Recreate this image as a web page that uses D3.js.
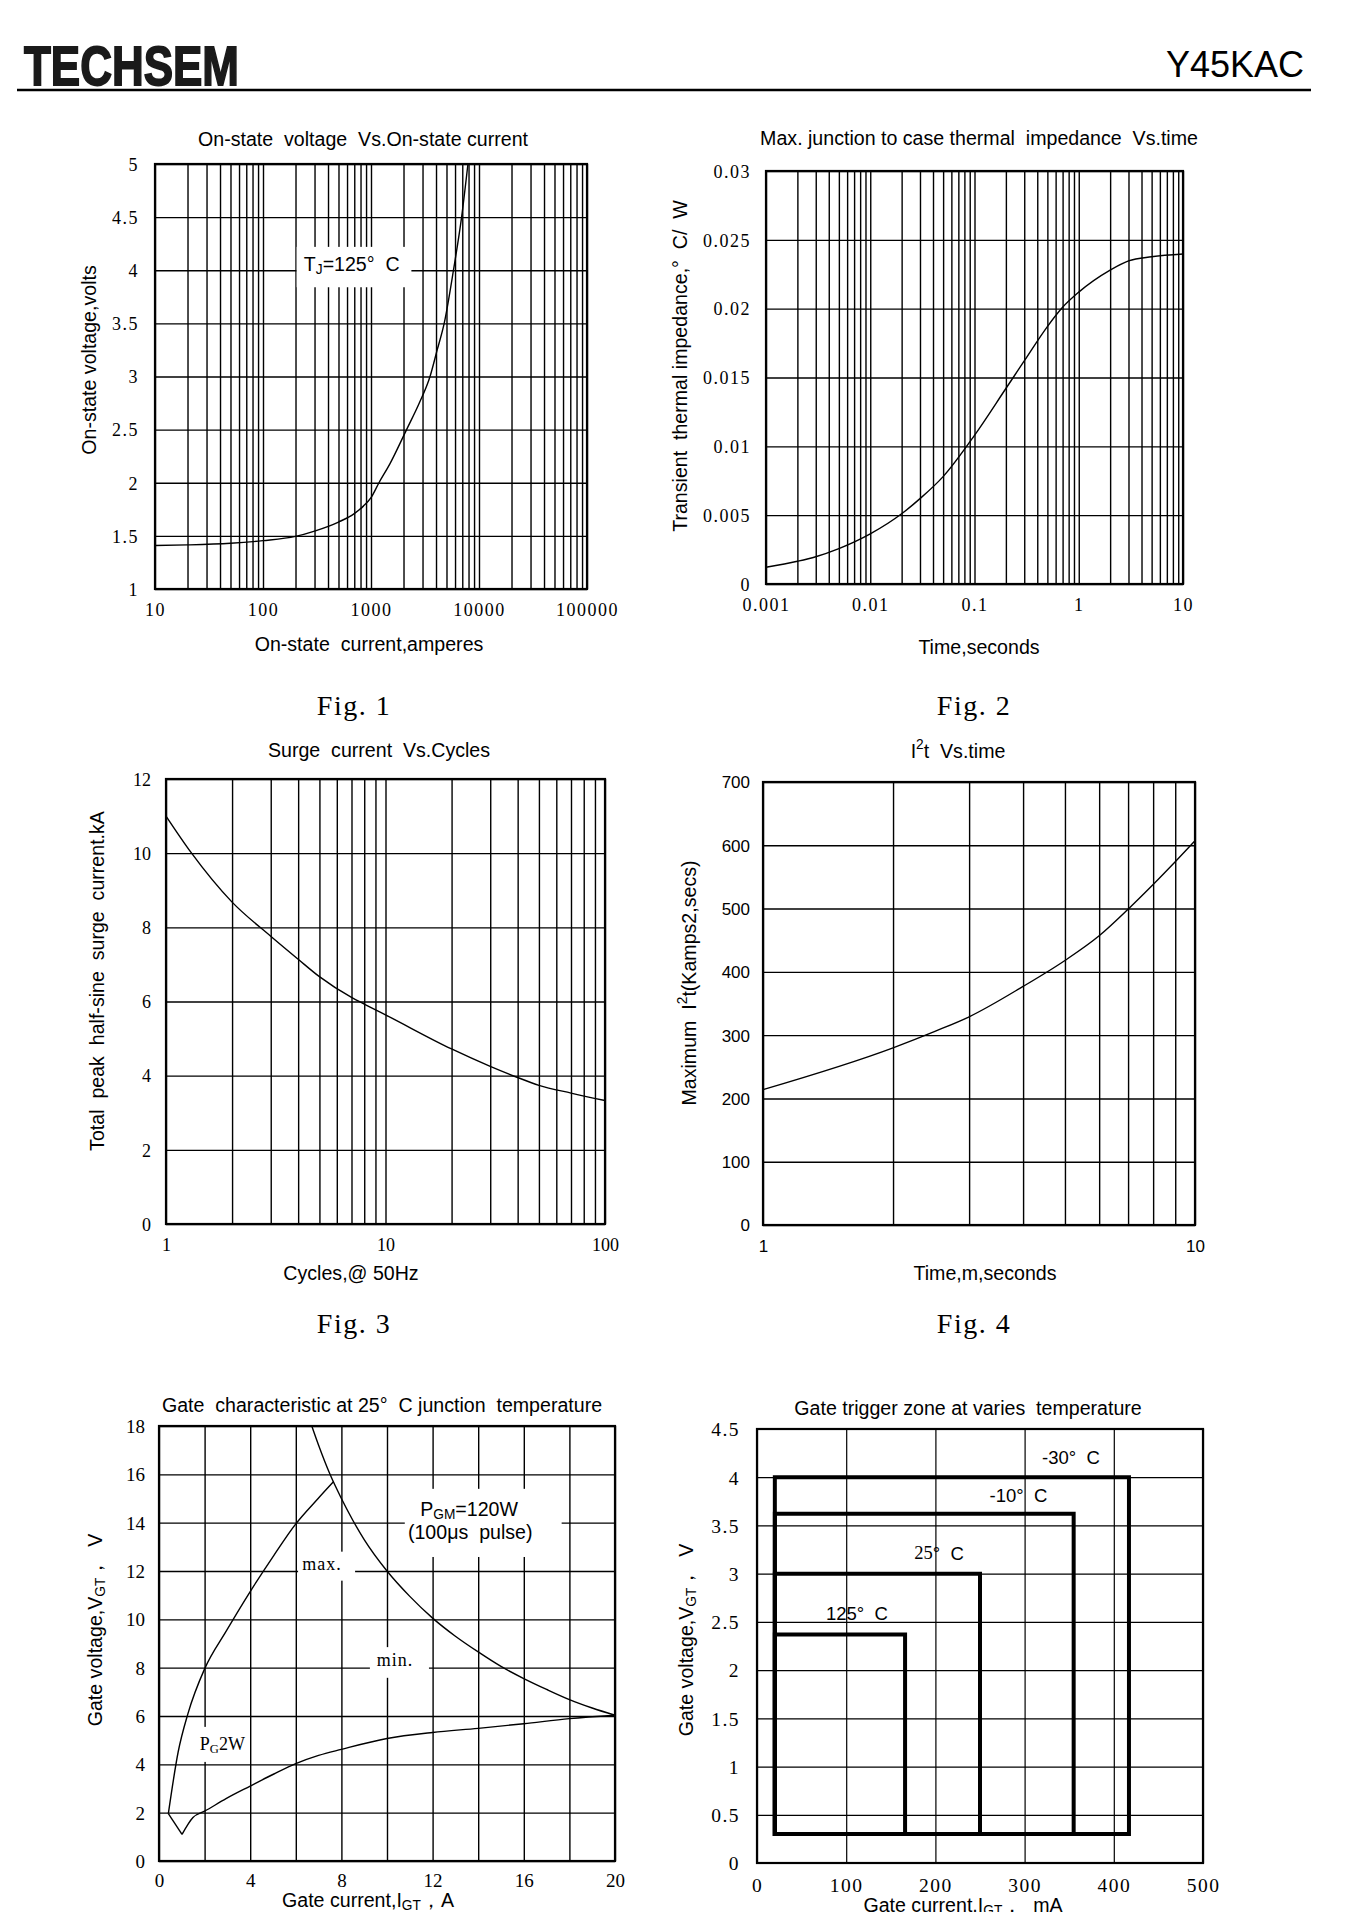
<!DOCTYPE html>
<html><head><meta charset="utf-8">
<script src="https://cdn.jsdelivr.net/npm/d3@7"></script>
<style>
body{margin:0;background:#fff;}
svg{display:block;}
svg text{white-space:pre;}
</style></head><body>
<svg id="chart" width="1357" height="1912"></svg>
<script>
// ---------------- DATA ----------------
// Fig 1: On-state voltage vs on-state current
const fig1Current = [10, 20, 50, 100, 200, 300, 500, 700, 850, 1000, 1185, 1500, 2135, 2800, 3520, 4100, 4760, 5800, 6900, 7900];
const fig1Voltage = [1.41, 1.415, 1.43, 1.455, 1.495, 1.545, 1.63, 1.71, 1.78, 1.86, 2.0, 2.18, 2.5, 2.75, 3.0, 3.25, 3.5, 4.0, 4.5, 5.0];
const fig1XTicks = [10, 100, 1000, 10000, 100000];
const fig1XLabels = ["10", "100", "1000", "10000", "100000"];
const fig1YTicks = [1, 1.5, 2, 2.5, 3, 3.5, 4, 4.5, 5];
const fig1YLabels = ["1", "1.5", "2", "2.5", "3", "3.5", "4", "4.5", "5"];

// Fig 2: thermal impedance vs time
const fig2Time = [0.001, 0.002, 0.003, 0.005, 0.01, 0.02, 0.03, 0.05, 0.1, 0.2, 0.3, 0.5, 0.7, 1, 2, 3, 5, 10];
const fig2Impedance = [0.00122, 0.00165, 0.00198, 0.00257, 0.00364, 0.0051, 0.0062, 0.0078, 0.0108, 0.0142, 0.0162, 0.0187, 0.0201, 0.0212, 0.0228, 0.02347, 0.02377, 0.02397];
const fig2XTicks = [0.001, 0.01, 0.1, 1, 10];
const fig2XLabels = ["0.001", "0.01", "0.1", "1", "10"];
const fig2YTicks = [0, 0.005, 0.01, 0.015, 0.02, 0.025, 0.03];
const fig2YLabels = ["0", "0.005", "0.01", "0.015", "0.02", "0.025", "0.03"];

// Fig 3: surge current vs cycles
const fig3Cycles = [1, 1.3, 2, 3, 4, 5, 7, 8, 10, 20, 30, 40, 50, 70, 100];
const fig3Current = [11.0, 10.02, 8.68, 7.76, 7.14, 6.67, 6.11, 5.93, 5.64, 4.72, 4.25, 3.95, 3.74, 3.53, 3.33];
const fig3XTicks = [1, 10, 100];
const fig3XLabels = ["1", "10", "100"];
const fig3YTicks = [0, 2, 4, 6, 8, 10, 12];
const fig3YLabels = ["0", "2", "4", "6", "8", "10", "12"];

// Fig 4: I2t vs time
const fig4Time = [1, 2, 2.5, 3, 4, 5, 6, 7, 8, 9, 10];
const fig4I2t = [214, 280, 306, 329, 377, 418, 457, 499, 538, 574, 607];
const fig4XTicks = [1, 10];
const fig4XLabels = ["1", "10"];
const fig4YTicks = [0, 100, 200, 300, 400, 500, 600, 700];
const fig4YLabels = ["0", "100", "200", "300", "400", "500", "600", "700"];

// Fig 5: gate characteristic
const fig5MaxCurrent = [0.41, 0.84, 1.27, 2.0, 2.94, 4.0, 5.04, 6.0, 6.98, 7.66];
const fig5MaxVoltage = [1.96, 4.51, 6.1, 7.95, 9.5, 11.15, 12.65, 13.95, 15.0, 15.7];
const fig5MinCurrent = [0.41, 1.01, 1.49, 2.0, 2.94, 4.0, 5.04, 6.0, 7.0, 8.0, 10, 12, 14, 16, 18, 20];
const fig5MinVoltage = [1.96, 1.1, 1.8, 2.06, 2.58, 3.1, 3.6, 4.03, 4.37, 4.62, 5.07, 5.32, 5.49, 5.68, 5.89, 6.03];
const fig5PgmCurrent = [6.7, 7, 7.5, 8, 8.5, 9, 10, 11, 12, 13, 14, 15, 16, 17, 18, 19, 20];
const fig5PgmVoltage = [18, 17.2, 16.0, 15.0, 14.1, 13.3, 12.0, 10.95, 10.05, 9.3, 8.65, 8.05, 7.55, 7.1, 6.68, 6.33, 6.03];
const fig5XTicks = [0, 4, 8, 12, 16, 20];
const fig5XLabels = ["0", "4", "8", "12", "16", "20"];
const fig5YTicks = [0, 2, 4, 6, 8, 10, 12, 14, 16, 18];
const fig5YLabels = ["0", "2", "4", "6", "8", "10", "12", "14", "16", "18"];

// Fig 6: gate trigger zones
const fig6ZoneNames = ["-30° C", "-10° C", "25° C", "125° C"];
const fig6IgtMin = [20, 20, 20, 20];
const fig6IgtMax = [417, 355, 250, 166];
const fig6VgtMin = [0.3, 0.3, 0.3, 0.3];
const fig6VgtMax = [4.0, 3.62, 3.0, 2.37];
const fig6XTicks = [0, 100, 200, 300, 400, 500];
const fig6XLabels = ["0", "100", "200", "300", "400", "500"];
const fig6YTicks = [0, 0.5, 1, 1.5, 2, 2.5, 3, 3.5, 4, 4.5];
const fig6YLabels = ["0", "0.5", "1", "1.5", "2", "2.5", "3", "3.5", "4", "4.5"];

// ---------------- DRAWING ----------------
const SANS = '"Liberation Sans", Arial, sans-serif';
const SERIF = '"Liberation Serif", "Times New Roman", serif';
const TXT = 19.6;
const svg = d3.select('#chart');
svg.append('rect').attr('width', 1357).attr('height', 1912).attr('fill', '#fff');

// header
svg.append('text').attr('x', 24).attr('y', 85).text('TECHSEM')
  .attr('font-family', SANS).attr('font-weight', 'bold').attr('font-size', 56)
  .attr('textLength', 215).attr('lengthAdjust', 'spacingAndGlyphs')
  .attr('fill', '#1a1a1a').attr('stroke', '#1a1a1a').attr('stroke-width', 1.8);
svg.append('text').attr('x', 1304).attr('y', 77).attr('text-anchor', 'end').text('Y45KAC')
  .attr('font-family', SANS).attr('font-size', 36).attr('fill', '#000');
svg.append('line').attr('x1', 17).attr('x2', 1311).attr('y1', 90).attr('y2', 90)
  .attr('stroke', '#000').attr('stroke-width', 2.5);

function rich(sel, parts) {
  parts.forEach(p => {
    const ts = sel.append('tspan').text(p.t);
    if (p.sub) ts.attr('dy', 5).attr('font-size', '0.7em');
    if (p.sup) ts.attr('dy', -7).attr('font-size', '0.7em');
    if (p.after) ts.attr('dy', p.after);
    if (p.font) ts.attr('font-family', p.font);
  });
}

function label(g, x, y, parts, o = {}) {
  const t = g.append('text')
    .attr('transform', `translate(${x},${y})` + (o.rotate ? ` rotate(${o.rotate})` : ''))
    .attr('text-anchor', o.anchor || 'middle')
    .attr('dominant-baseline', 'central')
    .attr('font-family', o.font || SANS)
    .attr('font-size', o.size || TXT)
    .attr('letter-spacing', o.ls || 0)
    .attr('fill', '#000');
  if (typeof parts === 'string') t.text(parts); else rich(t, parts);
  return t;
}

function panel(p) {
  const g = svg.append('g');
  const x = p.x.range([p.left, p.right]);
  const y = p.y.range([p.bottom, p.top]);
  const w = p.right - p.left, h = p.bottom - p.top;

  // grid via axes
  const gx = g.append('g').attr('transform', `translate(0,${p.bottom})`)
    .call(d3.axisBottom(x).tickValues(p.xGrid).tickSize(-h).tickFormat(''));
  const gy = g.append('g').attr('transform', `translate(${p.left},0)`)
    .call(d3.axisLeft(y).tickValues(p.yGrid).tickSize(-w).tickFormat(''));
  [gx, gy].forEach(a => {
    a.select('.domain').remove();
    a.selectAll('line').attr('stroke', '#000').attr('stroke-width', p.gridWidth || 1.4);
  });

  // white label boxes
  (p.boxes || []).forEach(b => {
    const x0 = x(b.x0), x1 = x(b.x1), y0 = y(b.y1), y1 = y(b.y0);
    g.append('rect').attr('x', x0).attr('y', y0).attr('width', x1 - x0).attr('height', y1 - y0).attr('fill', '#fff');
  });

  // frame
  g.append('rect').attr('x', p.left).attr('y', p.top).attr('width', w).attr('height', h)
    .attr('fill', 'none').attr('stroke', '#000').attr('stroke-width', 2.2);

  // tick labels via axes
  const ax = g.append('g').attr('transform', `translate(0,${p.bottom})`)
    .call(d3.axisBottom(x).tickValues(p.xTicks).tickSize(0).tickFormat((d, i) => p.xLabels[i]));
  ax.select('.domain').remove();
  ax.selectAll('text').attr('y', p.xLabelOffset).attr('dy', '0.35em')
    .attr('font-family', p.tickFont).attr('font-size', p.tickSize).attr('letter-spacing', p.tickLs || 0).attr('fill', '#000');
  const ay = g.append('g').attr('transform', `translate(${p.left},0)`)
    .call(d3.axisLeft(y).tickValues(p.yTicks).tickSize(0).tickFormat((d, i) => p.yLabels[i]));
  ay.select('.domain').remove();
  ay.selectAll('text').attr('x', -p.yLabelOffset).attr('dy', '0.35em')
    .attr('font-family', p.tickFont).attr('font-size', p.tickSize).attr('letter-spacing', p.tickLs || 0).attr('fill', '#000');

  p.draw && p.draw(g, x, y);

  // titles
  label(g, p.title[0], p.title[1], p.title[2]);
  label(g, p.xTitle[0], p.xTitle[1], p.xTitle[2]);
  label(g, p.yTitle[0], p.yTitle[1], p.yTitle[2], { rotate: -90 });
  if (p.fig) label(g, p.fig[0], p.fig[1], p.fig[2], { font: SERIF, size: 28, ls: 1.5 });
  return { g, x, y };
}

function curve(g, x, y, xs, ys, c, width) {
  const pts = xs.map((d, i) => [d, ys[i]]);
  g.append('path').datum(pts)
    .attr('d', d3.line().x(d => x(d[0])).y(d => y(d[1])).curve(c || d3.curveMonotoneX))
    .attr('fill', 'none').attr('stroke', '#000').attr('stroke-width', width || 1.4)
    .attr('stroke-linejoin', 'round');
}

// ---- Fig 1 ----
const s1x = d3.scaleLog().domain([10, 100000]);
panel({
  left: 155, right: 587, top: 164, bottom: 589,
  x: s1x, y: d3.scaleLinear().domain([1, 5]),
  xGrid: s1x.copy().ticks(), yGrid: fig1YTicks,
  xTicks: fig1XTicks, xLabels: fig1XLabels, yTicks: fig1YTicks, yLabels: fig1YLabels,
  tickFont: SERIF, tickSize: 18, tickLs: 1.5, xLabelOffset: 21, yLabelOffset: 16,
  boxes: [{ x0: 205, x1: 2366, y0: 3.84, y1: 4.22 }],
  draw: (g, x, y) => {
    curve(g, x, y, fig1Current, fig1Voltage);
    label(g, x(663), y(4.06), [{ t: 'T' }, { t: 'J', sub: true }, { t: '=125°  C', after: -5 }]);
  },
  title: [363, 139, 'On-state  voltage  Vs.On-state current'],
  xTitle: [369, 644, 'On-state  current,amperes'],
  yTitle: [89, 360, 'On-state voltage,volts'],
  fig: [354, 705, 'Fig. 1']
});

// ---- Fig 2 ----
const s2x = d3.scaleLog().domain([0.001, 10]);
panel({
  left: 766, right: 1183, top: 171, bottom: 584,
  x: s2x, y: d3.scaleLinear().domain([0, 0.03]),
  xGrid: s2x.copy().ticks(), yGrid: fig2YTicks,
  xTicks: fig2XTicks, xLabels: fig2XLabels, yTicks: fig2YTicks, yLabels: fig2YLabels,
  tickFont: SERIF, tickSize: 18, tickLs: 1.5, xLabelOffset: 21, yLabelOffset: 15,
  draw: (g, x, y) => curve(g, x, y, fig2Time, fig2Impedance),
  title: [979, 138, 'Max. junction to case thermal  impedance  Vs.time'],
  xTitle: [979, 647, 'Time,seconds'],
  yTitle: [680, 366, 'Transient  thermal impedance,°  C/  W'],
  fig: [974, 705, 'Fig. 2']
});

// ---- Fig 3 ----
const s3x = d3.scaleLog().domain([1, 100]);
panel({
  left: 166, right: 605, top: 779, bottom: 1224,
  x: s3x, y: d3.scaleLinear().domain([0, 12]),
  xGrid: s3x.copy().ticks(), yGrid: fig3YTicks,
  xTicks: fig3XTicks, xLabels: fig3XLabels, yTicks: fig3YTicks, yLabels: fig3YLabels,
  tickFont: SERIF, tickSize: 18, xLabelOffset: 21, yLabelOffset: 15,
  draw: (g, x, y) => curve(g, x, y, fig3Cycles, fig3Current),
  title: [379, 750, 'Surge  current  Vs.Cycles'],
  xTitle: [351, 1273, 'Cycles,@ 50Hz'],
  yTitle: [97, 981, 'Total  peak  half-sine  surge  current.kA'],
  fig: [354, 1323, 'Fig. 3']
});

// ---- Fig 4 ----
const s4x = d3.scaleLog().domain([1, 10]);
panel({
  left: 763, right: 1195, top: 782, bottom: 1225,
  x: s4x, y: d3.scaleLinear().domain([0, 700]),
  xGrid: s4x.copy().ticks(), yGrid: fig4YTicks,
  xTicks: fig4XTicks, xLabels: fig4XLabels, yTicks: fig4YTicks, yLabels: fig4YLabels,
  tickFont: SANS, tickSize: 17, xLabelOffset: 21, yLabelOffset: 13,
  draw: (g, x, y) => curve(g, x, y, fig4Time, fig4I2t),
  title: [958, 751, [{ t: 'I' }, { t: '2', sup: true }, { t: 't  Vs.time', after: 7 }]],
  xTitle: [985, 1273, 'Time,m,seconds'],
  yTitle: [689, 983, [{ t: 'Maximum  I' }, { t: '2', sup: true }, { t: 't(Kamps2,secs)', after: 7 }]],
  fig: [974, 1323, 'Fig. 4']
});

// ---- Fig 5 ----
panel({
  left: 159, right: 615, top: 1426, bottom: 1861,
  x: d3.scaleLinear().domain([0, 20]), y: d3.scaleLinear().domain([0, 18]),
  xGrid: d3.range(0, 21, 2), yGrid: fig5YTicks,
  xTicks: fig5XTicks, xLabels: fig5XLabels, yTicks: fig5YTicks, yLabels: fig5YLabels,
  tickFont: SERIF, tickSize: 19, xLabelOffset: 19, yLabelOffset: 14,
  boxes: [
    { x0: 6.1, x1: 8.6, y0: 11.6, y1: 12.8 },
    { x0: 9.25, x1: 11.84, y0: 7.58, y1: 8.85 },
    { x0: 10.78, x1: 17.66, y0: 12.58, y1: 15.4 },
    { x0: 1.7, x1: 3.5, y0: 4.1, y1: 5.55 }
  ],
  draw: (g, x, y) => {
    curve(g, x, y, fig5MaxCurrent, fig5MaxVoltage);
    curve(g, x, y, fig5MinCurrent.slice(0, 2), fig5MinVoltage.slice(0, 2), d3.curveLinear);
    curve(g, x, y, fig5MinCurrent.slice(1), fig5MinVoltage.slice(1));
    curve(g, x, y, fig5PgmCurrent, fig5PgmVoltage);
    label(g, x(7.15), y(12.3), 'max.', { font: SERIF, size: 18, ls: 1 });
    label(g, x(10.35), y(8.3), 'min.', { font: SERIF, size: 18, ls: 1 });
    label(g, x(13.6), y(14.55), [{ t: 'P' }, { t: 'GM', sub: true }, { t: '=120W', after: -5 }]);
    label(g, x(13.65), y(13.6), '(100μs  pulse)');
    label(g, x(1.79), y(4.85), [{ t: 'P' }, { t: 'G', sub: true }, { t: '2W', after: -5 }], { font: SERIF, size: 18, anchor: 'start' });
  },
  title: [382, 1405, 'Gate  characteristic at 25°  C junction  temperature'],
  xTitle: [368, 1900, [{ t: 'Gate current,I' }, { t: 'GT', sub: true }, { t: '，A', after: -5 }]],
  yTitle: [95, 1630, [{ t: 'Gate voltage,V' }, { t: 'GT', sub: true }, { t: '，  V', after: -5 }]]
});

// ---- Fig 6 ----
const zoneLabelPos = [[352, 4.2], [293, 3.81], [204, 3.21], [112, 2.59]];
panel({
  left: 757, right: 1203, top: 1429, bottom: 1863,
  x: d3.scaleLinear().domain([0, 500]), y: d3.scaleLinear().domain([0, 4.5]),
  xGrid: fig6XTicks, yGrid: fig6YTicks, gridWidth: 1.2,
  xTicks: fig6XTicks, xLabels: fig6XLabels, yTicks: fig6YTicks, yLabels: fig6YLabels,
  tickFont: SERIF, tickSize: 19.5, tickLs: 1.5, xLabelOffset: 22, yLabelOffset: 17,
  draw: (g, x, y) => {
    fig6ZoneNames.forEach((name, i) => {
      const x0 = x(fig6IgtMin[i]), x1 = x(fig6IgtMax[i]);
      const y0 = y(fig6VgtMin[i]), y1 = y(fig6VgtMax[i]);
      g.append('path').attr('d', `M${x0},${y0}L${x0},${y1}L${x1},${y1}L${x1},${y0}Z`)
        .attr('fill', 'none').attr('stroke', '#000').attr('stroke-width', 4).attr('stroke-linejoin', 'miter');
      const pos = zoneLabelPos[i];
      const parts = name.startsWith('25') ? [{ t: '25', font: SERIF }, { t: '°  C' }] : name.replace('° ', '°  ');
      label(g, x(pos[0]), y(pos[1]), parts, { size: 18.5 });
    });
  },
  title: [968, 1408, 'Gate trigger zone at varies  temperature'],
  xTitle: [963, 1905, [{ t: 'Gate current,I' }, { t: 'GT', sub: true }, { t: '，  mA', after: -5 }]],
  yTitle: [686, 1640, [{ t: 'Gate voltage,V' }, { t: 'GT', sub: true }, { t: '，  V', after: -5 }]]
});
</script>
</body></html>
